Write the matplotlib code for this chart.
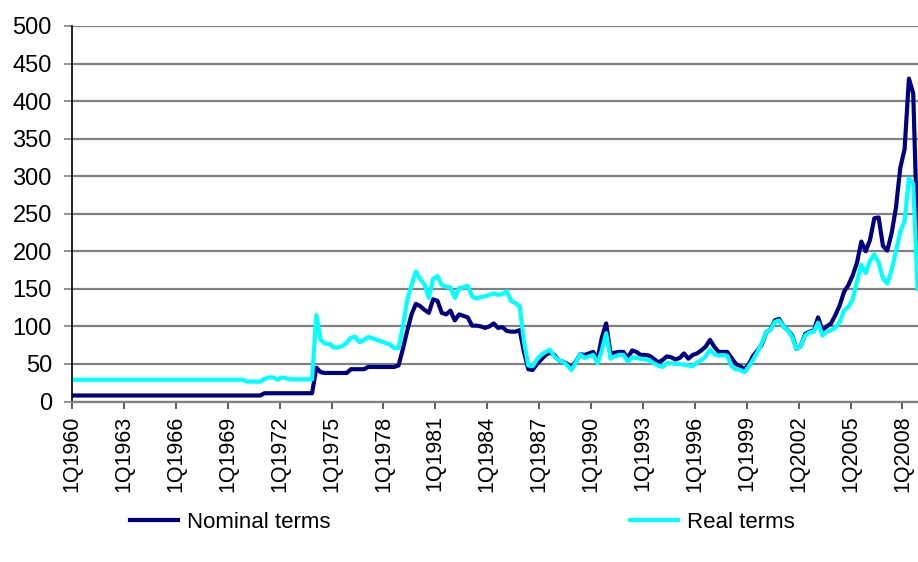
import matplotlib
matplotlib.use("Agg")
import matplotlib.pyplot as plt
from matplotlib.lines import Line2D

plt.rcParams['font.family'] = ['Liberation Sans', 'DejaVu Sans']

# Quarterly periods 1Q1960 .. 4Q2008
years = list(range(1960, 2009))
quarters = [f"{q}Q{y}" for y in years for q in (1, 2, 3, 4)]

nominal = (
    [8] * 44 +                      # 1Q1960 - 4Q1970
    [11] * 12 +                     # 1Q1971 - 4Q1973
    [45, 39, 38, 38, 38, 38, 38, 38,
     43, 43, 43, 43, 46, 46, 46, 46,
     46, 46, 46, 48, 70, 94, 116, 130,
     127, 122, 118, 136, 134, 118, 116, 121,
     108, 116, 114, 112, 101, 101, 100, 98,
     100, 104, 98, 99, 94, 93, 93, 95,
     66, 43, 42, 50, 56, 62, 65, 62,
     55, 53, 50, 46, 53, 63, 62, 64,
     66, 56, 85, 104, 64, 65, 66, 66,
     58, 68, 66, 62, 62, 61, 57, 52,
     55, 60, 59, 56, 58, 64, 57, 62,
     64, 68, 73, 82, 73, 66, 66, 66,
     58, 50, 47, 43, 50, 61, 68, 76,
     92, 96, 108, 110, 100, 95, 88, 70,
     74, 90, 93, 94, 112, 95, 100, 104,
     115, 128, 146, 155, 168, 185, 213, 200,
     215, 244, 245, 207, 201, 224, 258, 311,
     336, 430, 410, 210]
)

real = (
    [29] * 40 +                     # 1Q1960 - 4Q1969
    [26.5, 26.5, 26.5, 26.5, 30, 32, 32, 29,
     32, 31, 29.5, 29.5, 29.5, 29.5, 29.5, 29.5,
     115, 82, 77, 77, 72, 72, 74, 78,
     85, 86, 79, 82, 86, 84, 82, 80,
     78, 76, 71, 71, 100, 135, 155, 173,
     163, 156, 138, 163, 167, 155, 153, 152,
     138, 151, 152, 154, 140, 137, 139, 140,
     142, 144, 142, 143, 147, 134, 131, 127,
     80, 48, 47, 56, 62, 66, 69, 60,
     55, 53, 48, 42, 52, 63, 58, 60,
     62, 51, 68, 91, 57, 60, 62, 62,
     53, 59, 58, 57, 56, 55, 51, 48,
     46, 51, 51, 50, 50, 49, 48, 47,
     52, 55, 60, 69, 63, 61, 62, 61,
     47, 43, 42, 39, 47, 56, 66, 78,
     92, 96, 106, 108, 100, 95, 86, 70,
     74, 88, 92, 93, 105, 88, 93, 95,
     98, 106, 121, 126, 136, 160, 182, 171,
     187, 196, 185, 164, 157, 175, 200, 226,
     240, 297, 290, 150]
)

yticks = list(range(0, 501, 50))
label_step = 12

W, H = 918, 562
fig = plt.figure(figsize=(W / 100, H / 100), dpi=100)
ax = fig.add_axes([72 / W, 1 - 401.5 / H, (918 - 72) / W, (401.5 - 26) / H])

x = list(range(len(quarters)))
ax.plot(x, nominal, color='#000080', lw=3.0, solid_joinstyle='round')
ax.plot(x, real, color='#00FFFF', lw=3.0, solid_joinstyle='round')

ax.set_ylim(0, 500)
ax.set_yticks(yticks)
ax.set_yticklabels([str(v) for v in yticks], fontsize=17)
ax.yaxis.grid(True, color='#808080', lw=1.6)
ax.set_axisbelow(True)

ax.set_xlim(-0.5, 195.1)
tick_pos = [i - 0.5 for i in range(0, len(quarters), label_step)]
ax.set_xticks(tick_pos)
ax.set_xticklabels([quarters[i] for i in range(0, len(quarters), label_step)],
                   rotation=90, fontsize=15.5)

for s in ('top', 'right'):
    ax.spines[s].set_visible(False)
ax.spines['left'].set_color('black')
ax.spines['left'].set_linewidth(1.2)
ax.spines['bottom'].set_color('#808080')
ax.spines['bottom'].set_linewidth(1.6)
ax.tick_params(axis='y', length=5.5, width=1.2, color='#808080', pad=9)
ax.tick_params(axis='x', length=5, width=1.2, color='#404040', pad=5)

handles = [Line2D([], [], color='#000080', lw=3.0),
           Line2D([], [], color='#00FFFF', lw=3.0)]
fig.legend(handles, ['Nominal terms', 'Real terms'], loc='center left',
           bbox_to_anchor=(130 / W, 1 - 522 / H), ncol=2, frameon=False,
           fontsize=16, handlelength=2.15, handletextpad=0.4,
           columnspacing=13.5, borderpad=0, borderaxespad=0)

fig.savefig('out.png', dpi=100)
